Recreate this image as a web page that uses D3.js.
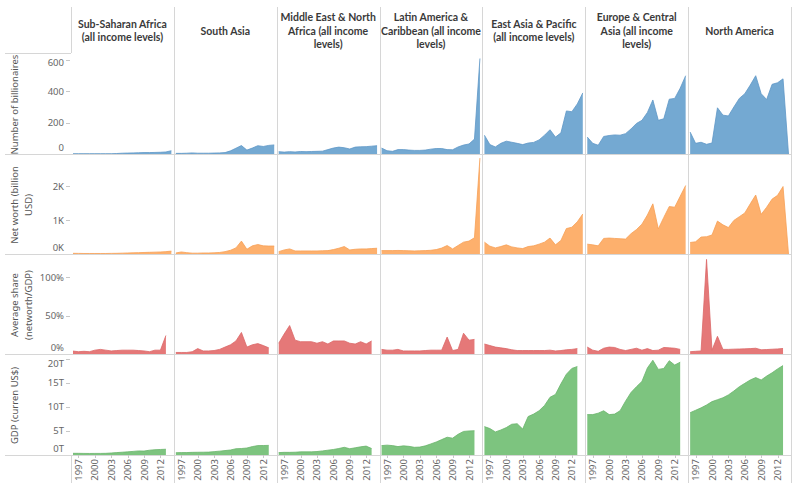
<!DOCTYPE html>
<html><head><meta charset="utf-8">
<script src="https://cdn.jsdelivr.net/npm/d3@7"></script>
<style>
body{margin:0;background:#fff}
svg{display:block}
text{font-family:"Noto Sans","Open Sans",sans-serif}
text.hdr{font-family:Lato,"Noto Sans",sans-serif}
</style>
</head><body>
<svg id="chart" width="808" height="496"></svg>
<script>
// ---------------- DATA ----------------
const regions = ["Sub-Saharan Africa (all income levels)","South Asia","Middle East & North Africa (all income levels)","Latin America & Caribbean (all income levels)","East Asia & Pacific (all income levels)","Europe & Central Asia (all income levels)","North America"];
const regionLines = [
  ["Sub-Saharan Africa","(all income levels)"],
  ["South Asia"],
  ["Middle East & North","Africa (all income","levels)"],
  ["Latin America &","Caribbean (all income","levels)"],
  ["East Asia & Pacific","(all income levels)"],
  ["Europe & Central","Asia (all income","levels)"],
  ["North America"]
];
const years = [1996,1997,1998,1999,2000,2001,2002,2003,2004,2005,2006,2007,2008,2009,2010,2011,2012,2013,2014];
const yearsToGdp = [1996,1997,1998,1999,2000,2001,2002,2003,2004,2005,2006,2007,2008,2009,2010,2011,2012,2013];

// Number of billionaires (1996-2014)
const billionaires = [
  [2,2,2,2,2,2,2,2,3,5,6,7,8,9,9,10,11,13,21],
  [4,4,5,7,5,5,5,6,7,9,20,37,54,25,38,53,48,55,58],
  [15,12,15,13,16,15,16,17,18,28,38,44,40,32,44,46,47,50,53],
  [38,21,17,28,28,25,23,23,25,31,35,35,28,27,45,57,64,95,610],
  [120,60,45,68,82,75,68,60,70,74,90,120,155,108,135,275,270,320,390],
  [108,68,56,112,118,122,120,130,160,195,215,265,345,215,225,350,355,420,500],
  [140,68,75,62,70,295,248,243,300,355,385,440,500,385,348,445,455,480,0]
];
// Net worth, billion USD (1996-2014)
const netWorth = [
  [20,18,15,15,15,15,15,18,20,25,30,35,40,45,50,55,60,70,85],
  [30,60,40,25,25,30,30,35,45,70,110,180,380,140,240,280,240,235,235],
  [70,120,150,90,90,90,90,90,95,100,130,170,220,120,140,150,150,160,170],
  [100,100,100,105,100,95,90,95,100,110,130,175,250,150,250,350,380,480,2830],
  [350,230,180,220,270,210,180,160,220,240,290,350,470,270,400,750,790,950,1180],
  [290,270,240,460,470,460,450,440,600,720,880,1150,1480,740,1080,1400,1380,1700,2020],
  [340,360,500,510,560,970,860,780,990,1100,1210,1480,1740,1170,1380,1620,1730,1990,0]
];
// Average share networth/GDP, % (1996-2013)
const avgShare = [
  [3.8,3,3.5,3,5,6,5,4,4.5,5,5,5,4.5,4,3,5,5,24],
  [2,2,2,3,7,4,4,4.5,6,9,12,17,28,9,12,13.5,11,8],
  [14,26,37,18,16,16,16,14,16,13,17,17,17,14,13,16,13,17],
  [6,5,5,6,4,4,4,4,4.5,5,5,5,22,4.5,6,27,18,19],
  [13,11,9,8,7,5.5,4.5,4.5,4.5,4.5,4.5,4.5,5,4,4.5,5.5,6,7],
  [9,5,3.5,7.5,9,8.5,6,4.5,6,7.5,5,7,4.5,5,8.5,8,7.5,6],
  [3,3.5,4,123,5,23,6,6,6.3,6.5,6.7,7,7.5,5.5,5.8,6.2,6.6,7.2]
];
// GDP, trillion current US$ (1996-2013)
const gdp = [
  [0.35,0.35,0.33,0.32,0.33,0.33,0.35,0.42,0.5,0.58,0.65,0.75,0.85,0.82,1.0,1.1,1.15,1.2],
  [0.48,0.5,0.51,0.55,0.57,0.58,0.6,0.7,0.8,0.92,1.04,1.3,1.35,1.45,1.75,1.95,1.97,2.0],
  [0.5,0.55,0.55,0.58,0.65,0.65,0.65,0.72,0.85,1.0,1.15,1.35,1.6,1.3,1.5,1.7,1.85,1.35],
  [1.95,2.05,1.95,1.75,1.9,1.8,1.6,1.65,1.9,2.3,2.7,3.2,3.7,3.5,4.3,4.9,5.0,5.05],
  [5.9,5.5,4.8,5.2,5.7,6.4,6.5,5.4,8.0,8.5,9.2,10.3,12.0,12.6,14.8,16.8,18.0,18.4],
  [8.4,8.4,8.7,9.2,8.4,8.5,9.2,11.2,13.0,14.2,15.3,18.1,19.7,17.8,18.0,19.6,18.7,19.3],
  [8.8,9.3,9.8,10.4,11.1,11.5,11.9,12.5,13.3,14.2,14.9,15.6,16.1,15.6,16.4,17.1,17.9,18.6]
];

const rowTitles = [["Number of billionaires"],["Net worth (billion","USD)"],["Average share","(networth/GDP)"],["GDP (curren US$)"]];
const billTicks = [0,200,400,600],   billTickLabels = ["0","200","400","600"];
const worthTicks = [0,1000,2000],    worthTickLabels = ["0K","1K","2K"];
const shareTicks = [0,50,100],       shareTickLabels = ["0%","50%","100%"];
const gdpTicks = [0,5,10,15,20],     gdpTickLabels = ["0T","5T","10T","15T","20T"];
const xTickYears = [1997,2000,2003,2006,2009,2012];

// ---------------- LAYOUT ----------------
const svg = d3.select("#chart");
const colLeft = 71, colRight = 791, nCols = regions.length;
const colW = (colRight - colLeft) / nCols;
const headerTop = 7, headerBottom = 53, axisBottom = 483;
const rowEdges = [53,154,254,354,455];
const gridColor = "#d6d6d6";

const rows = [
  {vals: billionaires, xs: years, max: 645, ticks: billTicks, labels: billTickLabels, fill:"#74a9d2", stroke:"#5e97c6"},
  {vals: netWorth, xs: years, max: 2950, ticks: worthTicks, labels: worthTickLabels, fill:"#fdb06d", stroke:"#f6a055"},
  {vals: avgShare, xs: yearsToGdp, max: 130, ticks: shareTicks, labels: shareTickLabels, fill:"#e57878", stroke:"#db6767"},
  {vals: gdp, xs: yearsToGdp, max: 21, ticks: gdpTicks, labels: gdpTickLabels, fill:"#7dc47f", stroke:"#69b46b"}
];

// headers
regionLines.forEach((lines, c) => {
  const cx = colLeft + colW * (c + 0.5);
  lines.forEach((t, i) => {
    svg.append("text").attr("class","hdr").attr("x", cx).attr("y", 30.5 + (i - (lines.length - 1) / 2) * 13.5)
      .attr("text-anchor","middle").attr("dominant-baseline","central")
      .attr("font-size", 10.5).attr("font-weight", 700).attr("fill","#3a3a3a").text(t);
  });
});

// grid lines
for (let c = 0; c <= nCols; c++) {
  const x = Math.round(colLeft + colW * c) + 0.5;
  if (c === 0) {
    svg.append("line").attr("x1",x).attr("x2",x).attr("y1",headerTop).attr("y2",headerBottom).attr("stroke",gridColor);
    svg.append("line").attr("x1",x).attr("x2",x).attr("y1",rowEdges[4]).attr("y2",axisBottom).attr("stroke",gridColor);
  } else {
    svg.append("line").attr("x1",x).attr("x2",x).attr("y1",headerTop).attr("y2",axisBottom).attr("stroke",gridColor);
  }
}
svg.append("line").attr("x1",5).attr("x2",colLeft).attr("y1",headerBottom+0.5).attr("y2",headerBottom+0.5).attr("stroke",gridColor);

const x = d3.scaleLinear().domain([1996, 2014]);

rows.forEach((row, r) => {
  const top = rowEdges[r], bottom = rowEdges[r+1];
  const y = d3.scaleLinear().domain([0, row.max]).range([bottom, top]);

  // panes
  for (let c = 0; c < nCols; c++) {
    const l = colLeft + colW * c;
    x.range([l + 2, l + colW - 2.5]);
    const data = row.vals[c].map((v, i) => ({yr: row.xs[i], v}));
    const area = d3.area().x(d => x(d.yr)).y0(y(0)).y1(d => y(d.v));
    const line = d3.line().x(d => x(d.yr)).y(d => y(d.v));
    svg.append("path").datum(data).attr("d", area).attr("fill", row.fill);
    svg.append("path").datum(data).attr("d", line).attr("fill","none").attr("stroke", row.stroke).attr("stroke-width",0.8);
  }

  // y axis
  const ax = svg.append("g");
  row.ticks.forEach((t, i) => {
    const ty = y(t);
    ax.append("line").attr("x1",66).attr("x2",70).attr("y1",Math.round(ty)+0.5).attr("y2",Math.round(ty)+0.5).attr("stroke","#c8c8c8");
    const ly = Math.max(top + 9, Math.min(bottom - 7, ty));
    ax.append("text").attr("x",64).attr("y",ly).attr("text-anchor","end").attr("dominant-baseline","central")
      .attr("font-size",9.5).attr("fill","#666").text(row.labels[i]);
  });

  // row separator
  svg.append("line").attr("x1",5).attr("x2",colRight).attr("y1",bottom+0.5).attr("y2",bottom+0.5).attr("stroke",gridColor);

  // row title
  const cy = (top + bottom) / 2 + 1;
  rowTitles[r].forEach((t, i) => {
    svg.append("text").attr("transform",`translate(${14 + 14*i},${cy}) rotate(-90)`)
      .attr("text-anchor","middle").attr("dominant-baseline","central")
      .attr("font-size",9.5).attr("fill","#555").text(t);
  });
});

// x axes
for (let c = 0; c < nCols; c++) {
  const l = colLeft + colW * c;
  x.range([l + 2, l + colW - 2.5]);
  xTickYears.forEach(yr => {
    const tx = x(yr);
    svg.append("line").attr("x1",Math.round(tx)+0.5).attr("x2",Math.round(tx)+0.5).attr("y1",455).attr("y2",458).attr("stroke","#c8c8c8");
    svg.append("text").attr("transform",`translate(${tx},${459}) rotate(-90)`)
      .attr("text-anchor","end").attr("dominant-baseline","central")
      .attr("font-size",9.5).attr("fill","#666").text(yr);
  });
}
</script>
</body></html>
